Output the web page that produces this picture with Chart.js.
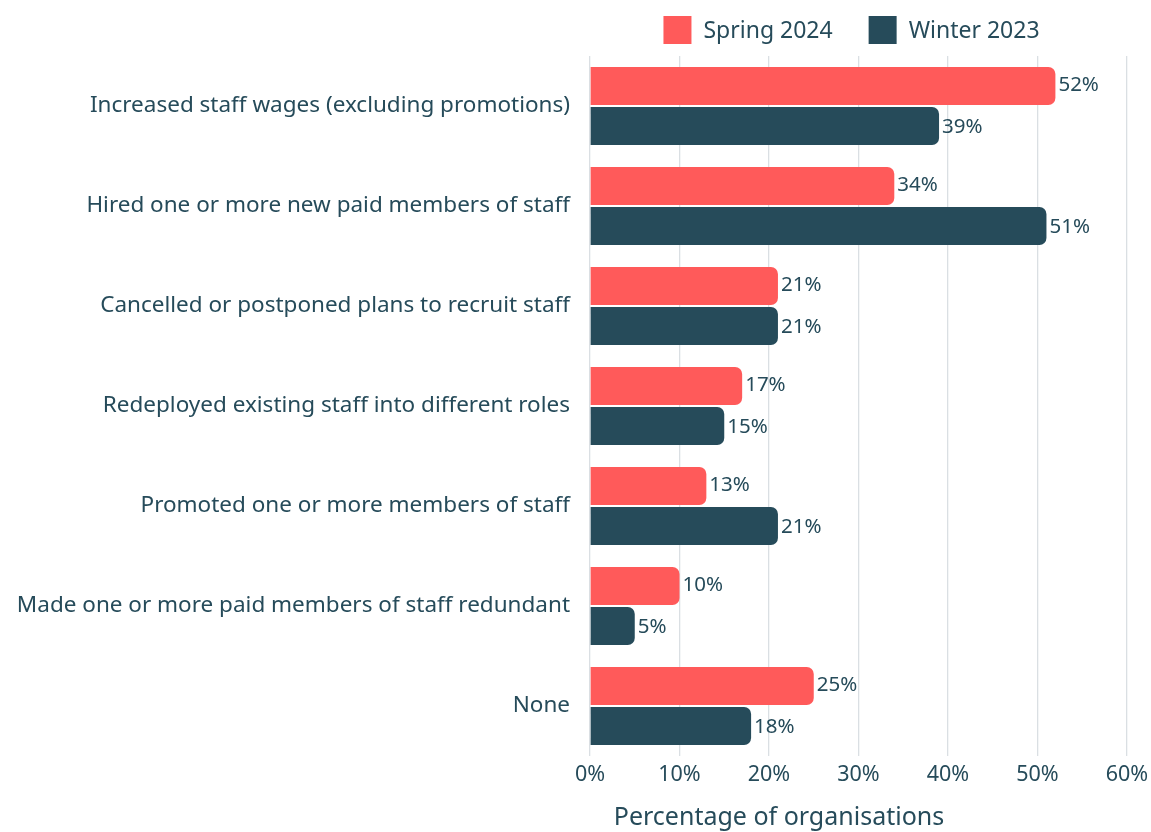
<!DOCTYPE html>
<html>
<head>
<meta charset="utf-8">
<script src="https://cdn.jsdelivr.net/npm/chart.js@4.4.1/dist/chart.umd.min.js"></script>
<style>
  html, body { margin: 0; padding: 0; background: #fff; }
  #wrap { width: 1151px; height: 832px; }
</style>
</head>
<body>
<div id="wrap"><canvas id="staffChart"></canvas></div>
<script>
const categories = [
  'Increased staff wages (excluding promotions)',
  'Hired one or more new paid members of staff',
  'Cancelled or postponed plans to recruit staff',
  'Redeployed existing staff into different roles',
  'Promoted one or more members of staff',
  'Made one or more paid members of staff redundant',
  'None'
];
const spring2024 = [52, 34, 21, 17, 13, 10, 25];
const winter2023 = [39, 51, 21, 15, 21, 5, 18];
const xTicks = [0, 10, 20, 30, 40, 50, 60];
const axisTitle = 'Percentage of organisations';

const RED = '#ff5a5a';
const NAVY = '#264b5a';
const FONT = '"Noto Sans", "Open Sans", sans-serif';

// value labels at the end of each bar
const barLabels = {
  id: 'barLabels',
  afterDatasetsDraw(chart) {
    const ctx = chart.ctx;
    ctx.save();
    ctx.font = '20.5px ' + FONT;
    ctx.fillStyle = NAVY;
    ctx.textBaseline = 'middle';
    ctx.textAlign = 'left';
    chart.data.datasets.forEach((ds, i) => {
      chart.getDatasetMeta(i).data.forEach((bar, j) => {
        ctx.fillText(ds.data[j] + '%', bar.x + 3, bar.y + (i === 0 ? -1 : 1));
      });
    });
    ctx.restore();
  }
};

// legend above the plot and the axis title below it
const extras = {
  id: 'extras',
  afterDraw(chart) {
    const ctx = chart.ctx;
    const area = chart.chartArea;
    ctx.save();
    ctx.font = '23px ' + FONT;
    ctx.textBaseline = 'middle';
    const box = 28, gap = 12, between = 36;
    const items = chart.data.datasets.map(d => ({ text: d.label, color: d.backgroundColor, w: box + gap + ctx.measureText(d.label).width }));
    const total = items.reduce((s, it) => s + it.w, 0) + between * (items.length - 1);
    let x = (area.left + area.right) / 2 - total / 2 - 7;
    const y = 30;
    items.forEach(it => {
      ctx.fillStyle = it.color;
      ctx.fillRect(x, y - box / 2, box, box);
      ctx.fillStyle = NAVY;
      ctx.textAlign = 'left';
      ctx.fillText(it.text, x + box + gap, y + 1);
      x += it.w + between;
    });
    ctx.font = '25px ' + FONT;
    ctx.textAlign = 'center';
    ctx.fillText(axisTitle, 779, 818);
    ctx.restore();
  }
};

new Chart(document.getElementById('staffChart').getContext('2d'), {
  type: 'bar',
  data: {
    labels: categories,
    datasets: [
      { label: 'Spring 2024', data: spring2024, backgroundColor: RED, borderRadius: 7, borderSkipped: 'start', categoryPercentage: 0.8, barPercentage: 0.95 },
      { label: 'Winter 2023', data: winter2023, backgroundColor: NAVY, borderRadius: 7, borderSkipped: 'start', categoryPercentage: 0.8, barPercentage: 0.95 }
    ]
  },
  options: {
    indexAxis: 'y',
    responsive: true,
    maintainAspectRatio: false,
    animation: false,
    layout: { padding: { top: 56, right: 24, bottom: 44, left: 0 } },
    scales: {
      x: {
        min: 0,
        max: 60,
        afterBuildTicks(scale) { scale.ticks = xTicks.map(v => ({ value: v })); },
        afterFit(scale) { scale.height = 32; scale.paddingRight = 0; scale.paddingLeft = 0; },
        grid: { color: '#dadfe3', lineWidth: 1.3, drawTicks: false },
        border: { display: false },
        ticks: {
          padding: 6,
          color: NAVY,
          font: { family: FONT, size: 21.5 },
          callback: v => v + '%'
        }
      },
      y: {
        afterFit(scale) { scale.width = 590; },
        grid: { display: false },
        border: { display: false },
        ticks: {
          padding: 12,
          color: NAVY,
          font: { family: FONT, size: 22.5 }
        }
      }
    },
    plugins: {
      legend: { display: false },
      tooltip: { enabled: false }
    }
  },
  plugins: [barLabels, extras]
});
</script>
</body>
</html>
